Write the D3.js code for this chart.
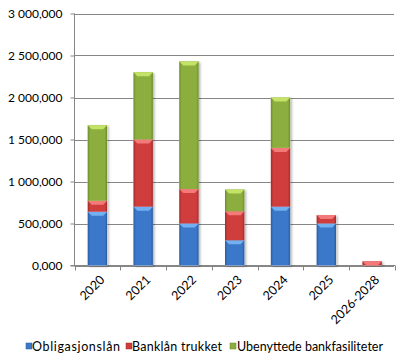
<!DOCTYPE html>
<html><head><meta charset="utf-8">
<script src="https://cdn.jsdelivr.net/npm/d3@7"></script>
<style>
html,body{margin:0;padding:0;background:#fff;}
svg{display:block;font-family:Lato,"Open Sans",sans-serif;}
</style></head>
<body><svg id="c" width="399" height="358"></svg>
<script>
const categories = ["2020","2021","2022","2023","2024","2025","2026-2028"];
const obligasjonslan = [640000, 700000, 500000, 300000, 700000, 500000, 0];
const banklanTrukket = [130000, 800000, 410000, 345000, 700000, 100000, 50000];
const ubenyttede = [900000, 800000, 1520000, 260000, 600000, 0, 0];
const seriesNames = ["Obligasjonslån","Banklån trukket","Ubenyttede bankfasiliteter"];
const yTicks = [0, 500000, 1000000, 1500000, 2000000, 2500000, 3000000];

const palette = [
  {base:"#3b78c9", light:"#73b0f2", dark:"#2a5a9c"},
  {base:"#cf3d3d", light:"#f47a7a", dark:"#9e2a2a"},
  {base:"#8cae3e", light:"#c3e266", dark:"#6a8a2a"}
];

const svg = d3.select("#c");
const x = d3.scaleBand().domain(categories).range([74.5, 395]).paddingInner(0.575).paddingOuter(0.2875);
const y = d3.scaleLinear().domain([0, 3000000]).range([265.5, 13.5]);

const fmtY = v => v === 0 ? "0,000" : (v >= 1000000 ? d3.format(",")(v/1000).replace(/,/g," ") + ",000" : d3.format(",")(v/1000) + ",000");

const defs = svg.append("defs");
palette.forEach((p,i)=>{
  const g = defs.append("linearGradient").attr("id","g"+i).attr("x1","0").attr("x2","1").attr("y1","0").attr("y2","0");
  g.append("stop").attr("offset","0").attr("stop-color",p.dark);
  g.append("stop").attr("offset","0.12").attr("stop-color",p.base);
  g.append("stop").attr("offset","0.5").attr("stop-color",p.base);
  g.append("stop").attr("offset","0.88").attr("stop-color",p.base);
  g.append("stop").attr("offset","1").attr("stop-color",p.dark);
});
const f = defs.append("filter").attr("id","sh").attr("x","-30%").attr("y","-10%").attr("width","160%").attr("height","130%");
f.append("feDropShadow").attr("dx",1.5).attr("dy",1).attr("stdDeviation",1.2).attr("flood-color","#000").attr("flood-opacity",0.3);

// gridlines
svg.append("g").selectAll("line").data(yTicks).join("line")
  .attr("x1",74.5).attr("x2",394).attr("y1",d=>Math.round(y(d))+0.5).attr("y2",d=>Math.round(y(d))+0.5)
  .attr("stroke","#868686").attr("stroke-width",1);

// y axis
const yAxis = d3.axisLeft(y).tickValues(yTicks).tickSize(4).tickPadding(8).tickFormat(fmtY);
const ya = svg.append("g").attr("transform","translate(74.5,0)").call(yAxis);
ya.select(".domain").attr("stroke","#868686").attr("d","M0,13.5V265.5");
ya.selectAll(".tick line").attr("stroke","#868686");
ya.selectAll(".tick text").attr("font-size","12px").attr("fill","#000").attr("font-family","Lato,sans-serif");

// x axis
const xa = svg.append("g").attr("transform","translate(0,265.5)");
xa.append("line").attr("x1",70.5).attr("x2",395).attr("stroke","#868686");
const bw = x.step();
const tickX = d3.range(categories.length+1).map(i=>74.5 + i*bw);
xa.selectAll("line.t").data(tickX).join("line").attr("class","t")
  .attr("x1",d=>Math.round(d)+0.5).attr("x2",d=>Math.round(d)+0.5).attr("y1",0).attr("y2",5).attr("stroke","#868686");
xa.selectAll("text").data(categories).join("text")
  .attr("transform",d=>`translate(${x(d)+x.bandwidth()/2+5},${12}) rotate(-45)`)
  .attr("text-anchor","end").attr("dy","0.35em").attr("font-size","12.5px").text(d=>d);

// stacked bars
const data = categories.map((c,i)=>({cat:c, v0:obligasjonslan[i], v1:banklanTrukket[i], v2:ubenyttede[i]}));
const stack = d3.stack().keys(["v0","v1","v2"])(data);
const bars = svg.append("g");
bars.selectAll("rect.sh").data(data).join("rect").attr("class","sh")
  .attr("x",d=>x(d.cat)).attr("width",x.bandwidth())
  .attr("y",d=>y(d.v0+d.v1+d.v2)).attr("height",d=>y(0)-y(d.v0+d.v1+d.v2))
  .attr("fill","#fff").attr("filter","url(#sh)");
stack.forEach((layer,si)=>{
  const p = palette[si];
  const g = bars.append("g");
  const segs = layer.filter(d=>d[1]-d[0]>0);
  g.selectAll("rect").data(segs).join("rect")
    .attr("x",d=>x(d.data.cat)).attr("width",x.bandwidth())
    .attr("y",d=>y(d[1])).attr("height",d=>y(d[0])-y(d[1]))
    .attr("fill",`url(#g${si})`);
  g.selectAll("path").data(segs).join("path")
    .attr("d",d=>{
      const x0=x(d.data.cat), w=x.bandwidth(), t=y(d[1]);
      const h=Math.min(4, y(d[0])-y(d[1]));
      return `M${x0},${t}H${x0+w}L${x0+w-4},${t+h}H${x0+4}Z`;
    }).attr("fill",p.light);
});

// legend
const lg = svg.append("g").attr("transform","translate(0,347)");
const legendLayout = [{sq:26, tx:32, w:88},{sq:126, tx:132, w:90},{sq:230, tx:237, w:146}];
seriesNames.forEach((n,i)=>{
  const c = palette[i], L = legendLayout[i];
  lg.append("rect").attr("x",L.sq).attr("y",-4).attr("width",6).attr("height",6).attr("fill",c.base).attr("stroke",c.dark).attr("stroke-width",0.5);
  lg.append("text").attr("x",L.tx).attr("y",0).attr("dy","0.35em").attr("font-size","12.5px")
    .attr("textLength",L.w).attr("lengthAdjust","spacing").text(n);
});
</script>
</body></html>
